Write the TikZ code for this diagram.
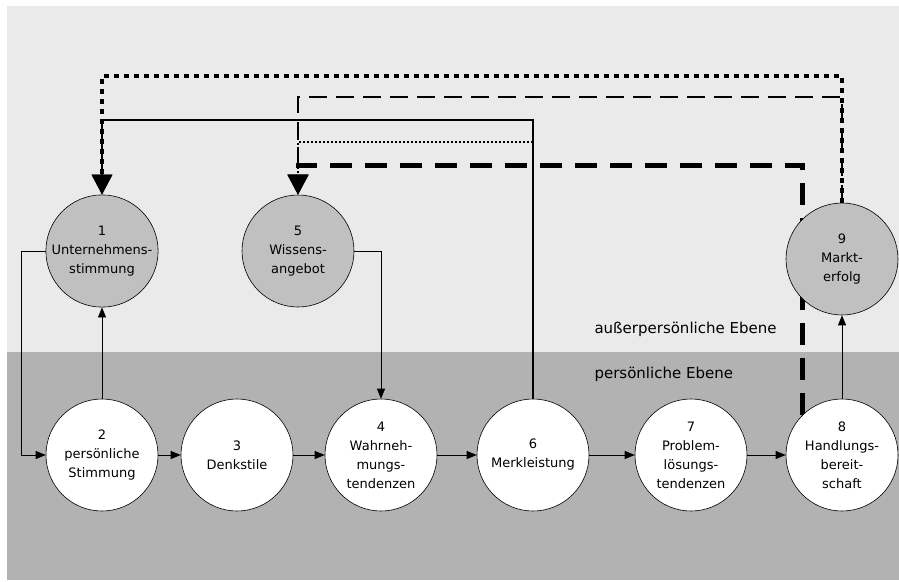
\documentclass[tikz,border=0pt]{standalone}
\usepackage{fontspec}
\setmainfont{DejaVu Sans}
\usetikzlibrary{arrows.meta}
\pgfdeclarelayer{canvas}
\pgfdeclarelayer{links}
\pgfsetlayers{canvas,links,main}
\definecolor{upperband}{RGB}{234,234,234}
\definecolor{lowerband}{RGB}{178,178,178}
\definecolor{ballgray}{RGB}{192,192,192}
\tikzset{
  ball/.style={circle,draw=black,line width=0.6pt,minimum size=112pt,inner sep=0pt,
    align=center,font=\fontsize{13}{19}\selectfont},
  extball/.style={ball,fill=ballgray},
  persball/.style={ball,fill=white},
  flow/.style={line width=0.8pt,-{Triangle[width=8pt,length=10pt]}},
  bigtip/.style={-{Triangle[width=20pt,length=20pt]}},
  level/.style={anchor=west,font=\fontsize{15}{18}\selectfont},
}
\begin{document}
\begin{tikzpicture}[x=1pt,y=-1pt]
\useasboundingbox (0,0) rectangle (899,581);
\begin{pgfonlayer}{canvas}
\fill[white] (0,0) rectangle (899,581);
\fill[upperband] (7,6) rectangle (899,352);
\fill[lowerband] (7,352) rectangle (899,580);
\end{pgfonlayer}
% outer level
\node[extball] (n1) at (102,251) {1\\Unternehmens-\\stimmung};
\node[extball] (n5) at (298,251) {5\\Wissens-\\angebot};
\node[extball] (n9) at (842,259) {9\\Markt-\\erfolg};
% personal level
\node[persball] (n2) at (102,455) {2\\persönliche\\Stimmung};
\node[persball] (n3) at (237,455) {3\\Denkstile};
\node[persball] (n4) at (381,455) {4\\Wahrneh-\\mungs-\\tendenzen};
\node[persball] (n6) at (533,455) {6\\Merkleistung};
\node[persball] (n7) at (691,455) {7\\Problem-\\lösungs-\\tendenzen};
\node[persball] (n8) at (842,455) {8\\Handlungs-\\bereit-\\schaft};
\node[level] (lext) at (591,329) {außerpersönliche Ebene};
\node[level] (lpers) at (591,374) {persönliche Ebene};
% heights of the feedback lines
\coordinate (yA) at (0,76);
\coordinate (yB) at (0,97);
\coordinate (yC) at (0,120);
\coordinate (yD) at (0,142);
\coordinate (yE) at (0,165);
\begin{pgfonlayer}{links}
\draw[flow] (n1.west) -- ++(-24,0) |- (n2.west);
\draw[flow] (n2) -- (n1);
\draw[flow] (n2) -- (n3);
\draw[flow] (n3) -- (n4);
\draw[flow] (n5.east) -| (n4.north);
\draw[flow] (n4) -- (n6);
\draw[flow] (n6) -- (n7);
\draw[flow] (n7) -- (n8);
\draw[flow] (n8) -- (n9);
% feedback
\draw[bigtip,line width=4pt,dash pattern=on 5pt off 5pt] (n9.north) -- (n9.north |- yA) -| (n1.north);
\draw[bigtip,line width=2pt,dash pattern=on 18pt off 9pt] (n9.north) -- (n9.north |- yB) -| (n5.north);
\draw[bigtip,line width=2pt] (n6.north) -- (n6.north |- yC) -| (n1.north);
\draw[bigtip,line width=2pt,dash pattern=on 2pt off 2pt] (n6.north |- yD) -| (n5.north);
\draw[bigtip,line width=5pt,dash pattern=on 22pt off 13pt] (n8.135) -- (n8.135 |- yE) -| (n5.north);
\end{pgfonlayer}
\end{tikzpicture}
\end{document}
